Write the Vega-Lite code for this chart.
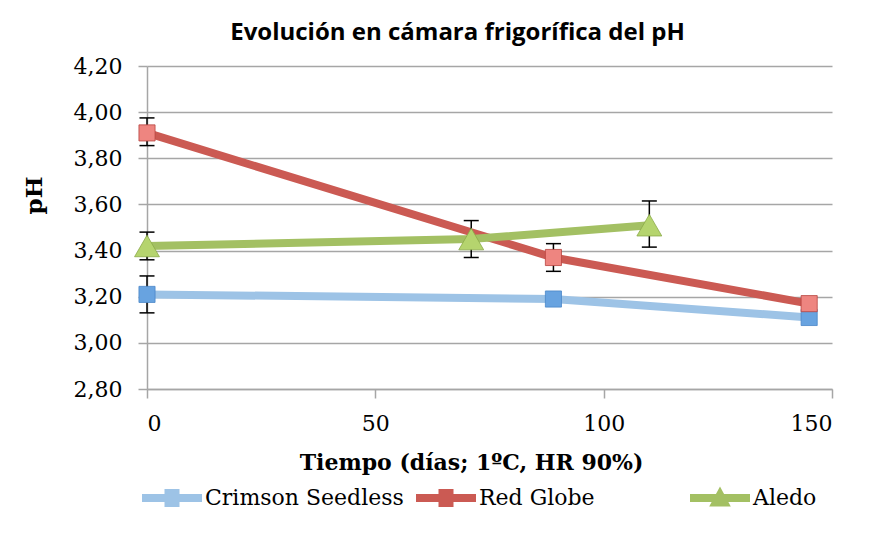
{
  "$schema": "https://vega.github.io/schema/vega-lite/v6.json",
  "width": 685,
  "height": 323,
  "autosize": {"type": "none"},
  "padding": {"left": 147, "top": 66, "right": 49, "bottom": 150},
  "background": "white",
  "title": {
    "text": "Evolución en cámara frigorífica del pH",
    "font": "Liberation Sans Narrow, Open Sans",
    "fontSize": 24,
    "fontWeight": "bold",
    "color": "#000000",
    "anchor": "middle",
    "frame": "group",
    "baseline": "alphabetic",
    "offset": -9,
    "dx": -32
  },
  "config": {
    "locale": {"number": {"decimal": ",", "thousands": ".", "grouping": [3], "currency": ["", " €"]}},
    "view": {"stroke": null}
  },
  "data": {
    "values": [
      {"serie": "Crimson Seedless", "t": 0, "ph": 3.21, "lo": 3.13, "hi": 3.29},
      {"serie": "Crimson Seedless", "t": 89, "ph": 3.19, "lo": null, "hi": null},
      {"serie": "Crimson Seedless", "t": 145, "ph": 3.11, "lo": null, "hi": null},
      {"serie": "Red Globe", "t": 0, "ph": 3.91, "lo": 3.855, "hi": 3.975},
      {"serie": "Red Globe", "t": 89, "ph": 3.37, "lo": 3.31, "hi": 3.43},
      {"serie": "Red Globe", "t": 145, "ph": 3.17, "lo": null, "hi": null},
      {"serie": "Aledo", "t": 0, "ph": 3.42, "lo": 3.36, "hi": 3.48},
      {"serie": "Aledo", "t": 71, "ph": 3.45, "lo": 3.37, "hi": 3.53},
      {"serie": "Aledo", "t": 110, "ph": 3.51, "lo": 3.415, "hi": 3.615}
    ]
  },
  "encoding": {
    "x": {
      "field": "t", "type": "quantitative",
      "scale": {"domain": [0, 150], "nice": false},
      "axis": {
        "values": [0, 50, 100, 150],
        "grid": false,
        "domainColor": "#A6A6A6", "domainWidth": 1.5,
        "tickColor": "#A6A6A6", "tickWidth": 1.5, "tickSize": 9,
        "labelFont": "DejaVu Serif", "labelFontSize": 22, "labelColor": "#000000", "labelPadding": 15,
        "title": "Tiempo (días; 1ºC, HR 90%)",
        "titleFont": "DejaVu Serif", "titleFontSize": 22, "titleFontWeight": "bold", "titleColor": "#000000",
        "titleX": 324, "titleY": 73, "titleBaseline": "middle", "titleAlign": "center"
      }
    },
    "y": {
      "field": "ph", "type": "quantitative",
      "scale": {"domain": [2.8, 4.2], "nice": false, "zero": false},
      "axis": {
        "values": [2.8, 3.0, 3.2, 3.4, 3.6, 3.8, 4.0, 4.2],
        "format": ".2f",
        "grid": true, "gridColor": "#A6A6A6", "gridWidth": 1.5,
        "domainColor": "#A6A6A6", "domainWidth": 1.5,
        "tickColor": "#A6A6A6", "tickWidth": 1.5, "tickSize": 9,
        "labelFont": "DejaVu Serif", "labelFontSize": 22, "labelColor": "#000000", "labelPadding": 16,
        "title": "pH",
        "titleFont": "DejaVu Serif", "titleFontSize": 23, "titleFontWeight": "bold", "titleColor": "#000000",
        "titleX": -113, "titleY": 129, "titleAngle": -90, "titleBaseline": "middle", "titleAlign": "center"
      }
    }
  },
  "layer": [
    {
      "mark": {"type": "line", "strokeWidth": 8, "strokeCap": "butt"},
      "encoding": {
        "color": {
          "field": "serie", "type": "nominal",
          "scale": {"domain": ["Crimson Seedless", "Red Globe", "Aledo"], "range": ["#9DC3E6", "#CB5A53", "#A3C063"]}
        }
      }
    },
    {
      "transform": [{"filter": "isValid(datum.lo)"}],
      "mark": {"type": "rule", "color": "#000000", "strokeWidth": 1.5},
      "encoding": {"y": {"field": "lo", "type": "quantitative"}, "y2": {"field": "hi"}}
    },
    {
      "transform": [{"filter": "isValid(datum.lo)"}],
      "mark": {"type": "tick", "orient": "horizontal", "color": "#000000", "thickness": 1.5, "size": 15, "opacity": 1},
      "encoding": {"y": {"field": "lo", "type": "quantitative"}}
    },
    {
      "transform": [{"filter": "isValid(datum.hi)"}],
      "mark": {"type": "tick", "orient": "horizontal", "color": "#000000", "thickness": 1.5, "size": 15, "opacity": 1},
      "encoding": {"y": {"field": "hi", "type": "quantitative"}}
    },
    {
      "transform": [{"filter": "datum.serie !== 'Aledo'"}],
      "mark": {"type": "point", "shape": "square", "filled": true, "size": 260, "opacity": 1, "strokeWidth": 0.8},
      "encoding": {
        "fill": {
          "field": "serie", "type": "nominal",
          "scale": {"domain": ["Crimson Seedless", "Red Globe", "Aledo"], "range": ["#68A3E0", "#EE8580", "#B5D46E"]},
          "legend": null
        },
        "stroke": {
          "field": "serie", "type": "nominal",
          "scale": {"domain": ["Crimson Seedless", "Red Globe", "Aledo"], "range": ["#4A86C8", "#B8443F", "#8AAA48"]},
          "legend": null
        }
      }
    },
    {
      "transform": [{"filter": "datum.serie === 'Aledo'"}],
      "mark": {"type": "point", "shape": "triangle-up", "filled": true, "size": 620, "opacity": 1, "strokeWidth": 0.8},
      "encoding": {
        "fill": {"field": "serie", "type": "nominal", "legend": null},
        "stroke": {"field": "serie", "type": "nominal", "legend": null}
      }
    },
    {
      "mark": {"type": "point", "filled": true, "opacity": 0, "size": 3600},
      "encoding": {
        "color": {"field": "serie", "type": "nominal", "title": null,
          "legend": {
            "orient": "none", "legendX": -5, "legendY": 402, "direction": "horizontal",
            "columns": 3, "gridAlign": "all",
            "title": null,
            "symbolSize": 3600, "symbolOpacity": 1, "symbolStrokeWidth": 0,
            "labelFont": "DejaVu Serif", "labelFontSize": 22, "labelColor": "#000000", "labelLimit": 400,
            "labelOffset": 3, "columnPadding": 12,
            "encode": {"symbols": {"update": {"opacity": {"value": 1}, "fillOpacity": {"value": 1}, "size": {"value": 3600}}}}
          }
        },
        "shape": {
          "field": "serie", "type": "nominal",
          "scale": {
            "domain": ["Crimson Seedless", "Red Globe", "Aledo"],
            "range": [
              "M-1,-0.13H1V0.13H-1Z M-0.25,-0.3H0.25V0.3H-0.25Z",
              "M-1,-0.13H1V0.13H-1Z M-0.25,-0.3H0.25V0.3H-0.25Z",
              "M-1,-0.13H1V0.13H-1Z M0,-0.38L0.36,0.28H-0.36Z"
            ]
          }
        }
      }
    }
  ]
}
